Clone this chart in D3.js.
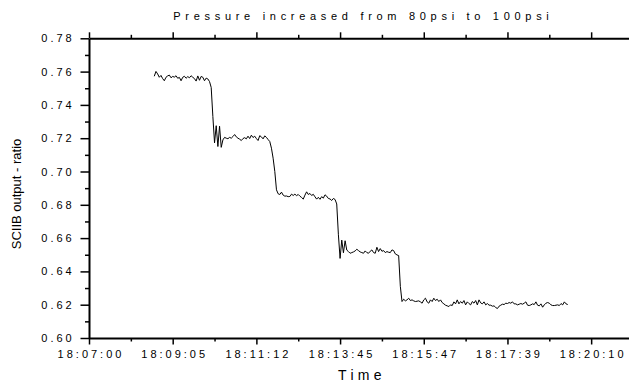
<!DOCTYPE html>
<html>
<head>
<meta charset="utf-8">
<script src="https://cdn.jsdelivr.net/npm/d3@7"></script>
<style>
  html, body { margin: 0; padding: 0; background: #fff; }
  svg { display: block; font-family: "Liberation Sans", Arial, sans-serif; }
  .tick-label { font-size: 11px; letter-spacing: 3px; fill: #000; }
</style>
</head>
<body>
<svg id="chart" width="629" height="385"></svg>
<script>
// Sensor ratio logged once per sample; the x axis counts samples and is labelled with clock times.
const chartTitle = "Pressure increased from 80psi to 100psi";
const xTitle = "Time";
const yTitle = "SCIIB output - ratio";

// Clock time at every 50th sample
const timeTickSamples = [0, 50, 100, 150, 200, 250, 300];
const timeTickLabels = ["18:07:00", "18:09:05", "18:11:12", "18:13:45", "18:15:47", "18:17:39", "18:20:10"];
const sampleSpan = [0, 325];

const yTicks = [0.60, 0.62, 0.64, 0.66, 0.68, 0.70, 0.72, 0.74, 0.76, 0.78];
const yRange = [0.60, 0.78];

// First logged sample index, followed by the recorded ratio values
const firstSample = 39;
const sampleValues = [
  // 80 psi
  0.7572, 0.7601, 0.7586, 0.7566, 0.7577, 0.7558, 0.7545, 0.7566, 0.7574, 0.7579,
  0.7563, 0.7571, 0.7567, 0.7575, 0.7560, 0.7565, 0.7545, 0.7566, 0.7572, 0.7560,
  0.7570, 0.7563, 0.7575, 0.7566, 0.7558, 0.7543, 0.7574, 0.7548, 0.7571, 0.7566,
  0.7545, 0.7561, 0.7556, 0.7540, 0.7505,
  // step 1
  0.7330, 0.7172, 0.7275, 0.7150, 0.7272, 0.7145, 0.7190, 0.7205, 0.7200, 0.7197,
  0.7205, 0.7200, 0.7210, 0.7222, 0.7208, 0.7200, 0.7194, 0.7186, 0.7198, 0.7203,
  0.7196, 0.7212, 0.7198, 0.7218, 0.7204, 0.7212, 0.7198, 0.7186, 0.7215, 0.7208,
  0.7196, 0.7214, 0.7205, 0.7192, 0.7180, 0.7140, 0.7080, 0.7000, 0.6890,
  // step 2
  0.6866, 0.6862, 0.6876, 0.6858, 0.6852, 0.6853, 0.6849, 0.6850, 0.6864, 0.6856,
  0.6864, 0.6855, 0.6862, 0.6852, 0.6844, 0.6834, 0.6858, 0.6878, 0.6862, 0.6868,
  0.6856, 0.6863, 0.6848, 0.6834, 0.6845, 0.6833, 0.6849, 0.6840, 0.6860, 0.6852,
  0.6838, 0.6835, 0.6826, 0.6838, 0.6832, 0.6805,
  // step 3
  0.6620, 0.6478, 0.6588, 0.6512, 0.6584, 0.6528, 0.6519, 0.6509, 0.6513, 0.6517,
  0.6523, 0.6533, 0.6525, 0.6517, 0.6513, 0.6509, 0.6523, 0.6513, 0.6509, 0.6521,
  0.6529, 0.6513, 0.6509, 0.6545, 0.6519, 0.6537, 0.6521, 0.6525, 0.6513, 0.6519,
  0.6515, 0.6513, 0.6529, 0.6525, 0.6505, 0.6499, 0.6495,
  // step 4 (100 psi)
  0.6310, 0.6219, 0.6233, 0.6223, 0.6229, 0.6239, 0.6225, 0.6229, 0.6223, 0.6219,
  0.6221, 0.6223, 0.6217, 0.6209, 0.6229, 0.6239, 0.6217, 0.6209, 0.6229, 0.6219,
  0.6239, 0.6225, 0.6233, 0.6219, 0.6229, 0.6213, 0.6205, 0.6197, 0.6193, 0.6189,
  0.6199, 0.6195, 0.6217, 0.6205, 0.6229, 0.6205, 0.6219, 0.6209, 0.6225, 0.6199,
  0.6217, 0.6207, 0.6199, 0.6219, 0.6209, 0.6225, 0.6199, 0.6229, 0.6211, 0.6205,
  0.6217, 0.6199, 0.6207, 0.6197, 0.6197, 0.6191, 0.6193, 0.6183, 0.6177, 0.6191,
  0.6197, 0.6203, 0.6201, 0.6209, 0.6207, 0.6213, 0.6209, 0.6217, 0.6205, 0.6205,
  0.6199, 0.6203, 0.6207, 0.6203, 0.6209, 0.6217, 0.6197, 0.6195, 0.6199, 0.6205,
  0.6201, 0.6217, 0.6197, 0.6193, 0.6205, 0.6185, 0.6199, 0.6209, 0.6213, 0.6209,
  0.6199, 0.6195, 0.6195, 0.6197, 0.6199, 0.6195, 0.6207, 0.6199, 0.6217, 0.6205,
  0.6201
];

const svg = d3.select("#chart");
const plot = { left: 89, right: 633, top: 38.3, bottom: 338 };

const x = d3.scaleLinear().domain(sampleSpan).range([plot.left, plot.right]);
const y = d3.scaleLinear().domain(yRange).range([plot.bottom, plot.top]);

const minorX = d3.range(sampleSpan[0] + 25, sampleSpan[1] + 1, 50);
const minorY = yTicks.slice(0, -1).map(v => +(v + 0.01).toFixed(2));

function styleAxis(g) {
  g.select(".domain").attr("stroke", "#000").attr("stroke-width", 2);
  g.selectAll(".tick line").attr("stroke", "#000").attr("stroke-width", 1.5);
}

// Bottom axis: labelled major ticks plus unlabelled minor ticks
const xAxis = d3.axisBottom(x).tickValues(timeTickSamples)
  .tickFormat((d, i) => timeTickLabels[i]).tickSize(6.5).tickSizeOuter(0);
const gx = svg.append("g").attr("transform", `translate(0,${plot.bottom})`).call(xAxis);
styleAxis(gx);
gx.selectAll(".tick text").attr("class", "tick-label").attr("y", 19.5).attr("dy", 0)
  .attr("dx", 1.5).attr("font-family", null).attr("font-size", null);
svg.append("g").attr("transform", `translate(0,${plot.bottom})`)
  .call(d3.axisBottom(x).tickValues(minorX).tickFormat("").tickSize(3.5).tickSizeOuter(0))
  .call(styleAxis).select(".domain").remove();

// Top frame with outward ticks
const gxt = svg.append("g").attr("transform", `translate(0,${plot.top})`)
  .call(d3.axisTop(x).tickValues(timeTickSamples).tickFormat("").tickSize(6).tickSizeOuter(0));
styleAxis(gxt);
svg.append("g").attr("transform", `translate(0,${plot.top})`)
  .call(d3.axisTop(x).tickValues(minorX).tickFormat("").tickSize(3.5).tickSizeOuter(0))
  .call(styleAxis).select(".domain").remove();

// Left axis
const yAxis = d3.axisLeft(y).tickValues(yTicks).tickFormat(d3.format(".2f"))
  .tickSize(8.5).tickSizeOuter(0);
const gy = svg.append("g").attr("transform", `translate(${plot.left},0)`).call(yAxis);
styleAxis(gy);
gy.selectAll(".tick text").attr("class", "tick-label").attr("x", -14.3)
  .attr("font-family", null).attr("font-size", null);
svg.append("g").attr("transform", `translate(${plot.left},0)`)
  .call(d3.axisLeft(y).tickValues(minorY).tickFormat("").tickSize(4).tickSizeOuter(0))
  .call(styleAxis).select(".domain").remove();

// Right edge of the frame
svg.append("line")
  .attr("x1", plot.right).attr("x2", plot.right)
  .attr("y1", plot.top).attr("y2", plot.bottom)
  .attr("stroke", "#000").attr("stroke-width", 2);

// Ratio trace
const line = d3.line()
  .x((d, i) => x(firstSample + i))
  .y(d => y(d));
svg.append("path")
  .datum(sampleValues)
  .attr("d", line)
  .attr("fill", "none")
  .attr("stroke", "#000")
  .attr("stroke-width", 1)
  .attr("stroke-linejoin", "round");

// Titles
svg.append("text")
  .attr("x", 363.4).attr("y", 19.5)
  .attr("text-anchor", "middle")
  .style("font-size", "11px").style("letter-spacing", "4.7px")
  .text(chartTitle);

svg.append("text")
  .attr("x", 362).attr("y", 380)
  .attr("text-anchor", "middle")
  .style("font-size", "14px").style("letter-spacing", "4.3px")
  .text(xTitle);

svg.append("text")
  .attr("transform", "translate(21,194) rotate(-90)")
  .attr("text-anchor", "middle")
  .style("font-size", "13px")
  .text(yTitle);
</script>
</body>
</html>
